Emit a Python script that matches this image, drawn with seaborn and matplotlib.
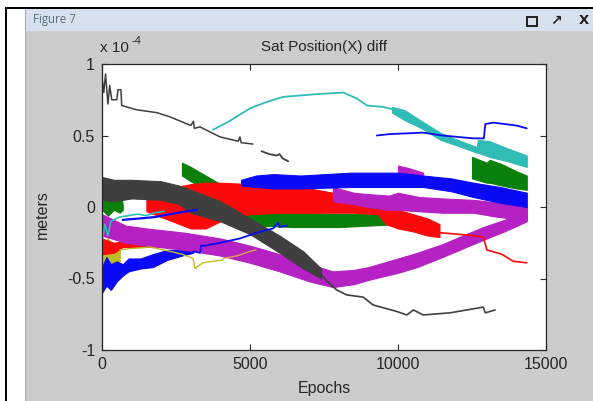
import matplotlib
matplotlib.use('Agg')
import matplotlib.pyplot as plt
import seaborn as sns
from matplotlib.patches import Rectangle

# x in epochs, y in units of 1e-4 m

# thin dark grey line, top left
gray_top_x = [0, 60, 120, 200, 260, 330, 500, 540, 640, 665, 1170, 1850, 2300, 3000, 3090, 3120, 3310, 3990, 4600, 4660, 4700, 5100]
gray_top_y = [0.91, 0.80, 0.93, 0.72, 0.85, 0.75, 0.75, 0.82, 0.82, 0.71, 0.68, 0.66, 0.63, 0.57, 0.60, 0.55, 0.56, 0.49, 0.46, 0.49, 0.45, 0.44]
gray_seg_x = [5390, 5650, 5900, 6000, 6100, 6290]
gray_seg_y = [0.39, 0.37, 0.36, 0.37, 0.34, 0.32]

# thick dark grey band and its thin continuation
gray_band_x = [0, 400, 1000, 2000, 2600, 3000, 4000, 5000, 6000, 6800, 7400]
gray_band_hi = [0.21, 0.19, 0.19, 0.18, 0.15, 0.12, 0.04, -0.08, -0.20, -0.31, -0.43]
gray_band_lo = [0.05, 0.04, 0.06, 0.05, 0.02, -0.04, -0.10, -0.19, -0.32, -0.43, -0.50]
gray_low_x = [7400, 7600, 7930, 8270, 8820, 9160, 9950, 10300, 10520, 10850, 11760, 12880, 12950, 13280]
gray_low_y = [-0.47, -0.52, -0.58, -0.615, -0.63, -0.685, -0.73, -0.755, -0.72, -0.755, -0.74, -0.70, -0.74, -0.72]

# cyan
cyan_arc_x = [3750, 4300, 5000, 5500, 6120, 6700, 7300, 8150, 8600, 8950, 9500, 10070]
cyan_arc_y = [0.54, 0.60, 0.69, 0.73, 0.77, 0.78, 0.79, 0.80, 0.76, 0.71, 0.70, 0.67]
cyan_band_x = [9800, 10200, 10800, 11430, 12000, 12660, 12700, 13100, 13700, 14350]
cyan_band_hi = [0.70, 0.68, 0.60, 0.52, 0.47, 0.42, 0.47, 0.46, 0.41, 0.36]
cyan_band_lo = [0.66, 0.61, 0.55, 0.47, 0.43, 0.38, 0.38, 0.35, 0.32, 0.28]
cyan_left_x = [0, 100, 200, 300, 600, 900, 1200, 1500, 1800, 2100]
cyan_left_y = [-0.25, -0.12, -0.20, -0.10, -0.07, -0.06, -0.05, -0.06, -0.04, -0.03]

# blue
blue_top_x = [9285, 9730, 10850, 11500, 12540, 12900, 12950, 13220, 14000, 14350]
blue_top_y = [0.50, 0.51, 0.52, 0.50, 0.48, 0.48, 0.58, 0.59, 0.57, 0.55]
blue_band_x = [4700, 5200, 5800, 6700, 8400, 10000, 10850, 11800, 12540, 13440, 14350]
blue_band_hi = [0.19, 0.22, 0.23, 0.22, 0.24, 0.24, 0.22, 0.20, 0.17, 0.14, 0.10]
blue_band_lo = [0.15, 0.14, 0.13, 0.13, 0.14, 0.14, 0.14, 0.11, 0.07, 0.03, 0.00]
blue_left_x = [0, 150, 300, 500, 700, 900, 1300, 1720, 2200, 2700, 3075]
blue_left_hi = [-0.42, -0.35, -0.40, -0.38, -0.40, -0.36, -0.36, -0.33, -0.30, -0.30, -0.30]
blue_left_lo = [-0.60, -0.55, -0.58, -0.52, -0.48, -0.45, -0.43, -0.42, -0.37, -0.34, -0.32]
blue_mid_x = [3075, 3310, 3350, 3500, 3990, 4660, 5225, 5780, 5950, 6000, 6250]
blue_mid_y = [-0.31, -0.32, -0.27, -0.27, -0.25, -0.22, -0.18, -0.15, -0.11, -0.14, -0.13]
blue_thin_x = [700, 1280, 1800, 2300, 2860, 3210]
blue_thin_y = [-0.09, -0.08, -0.07, -0.05, -0.03, -0.02]

# green
green_band_x = [2700, 3000, 3500, 4000, 4600, 5200, 6500, 8000, 9000, 10000, 10300]
green_band_hi = [0.31, 0.28, 0.22, 0.16, 0.08, -0.03, -0.04, -0.05, -0.05, -0.04, -0.04]
green_band_lo = [0.22, 0.18, 0.12, 0.07, -0.03, -0.13, -0.14, -0.14, -0.13, -0.12, -0.10]
green_right_x = [12500, 13000, 13100, 13500, 14000, 14350]
green_right_hi = [0.35, 0.31, 0.33, 0.30, 0.25, 0.22]
green_right_lo = [0.20, 0.17, 0.17, 0.15, 0.13, 0.12]
green_left_x = [0, 200, 400, 600, 700]
green_left_hi = [0.12, 0.15, 0.12, 0.12, 0.02]
green_left_lo = [-0.02, -0.06, -0.02, -0.04, -0.02]

# magenta
mag_u_x = [0, 800, 1500, 2800, 4000, 5000, 6000, 7000, 7800, 8500, 9000, 10000, 10650, 11500, 12300, 12880, 13600, 14350]
mag_u_hi = [-0.05, -0.13, -0.15, -0.18, -0.22, -0.27, -0.33, -0.40, -0.45, -0.44, -0.42, -0.36, -0.32, -0.26, -0.19, -0.14, -0.09, -0.01]
mag_u_lo = [-0.20, -0.25, -0.27, -0.30, -0.34, -0.39, -0.45, -0.52, -0.56, -0.54, -0.51, -0.46, -0.42, -0.35, -0.28, -0.23, -0.17, -0.10]
mag_up_x = [7800, 8500, 9000, 9700, 10000, 10700, 11500, 12540, 13400, 14350]
mag_up_hi = [0.14, 0.10, 0.09, 0.08, 0.10, 0.07, 0.06, 0.05, 0.03, 0.00]
mag_up_lo = [0.04, 0.02, 0.00, -0.02, -0.02, -0.03, -0.04, -0.04, -0.07, -0.09]
mag_chunk_x = [10000, 10400, 10850]
mag_chunk_hi = [0.29, 0.27, 0.24]
mag_chunk_lo = [0.20, 0.20, 0.20]

# red
red_band_x = [1500, 2000, 2500, 3000, 3500, 4000, 5000, 6000, 7000, 7800, 8500, 9300, 9600, 10000, 10500, 11000, 11400]
red_band_hi = [0.06, 0.11, 0.14, 0.16, 0.17, 0.17, 0.16, 0.15, 0.13, 0.10, 0.07, 0.05, 0.00, -0.02, -0.05, -0.08, -0.12]
red_band_lo = [-0.03, -0.07, -0.11, -0.15, -0.15, -0.10, -0.05, -0.04, -0.04, -0.04, -0.04, -0.05, -0.12, -0.15, -0.17, -0.20, -0.21]
red_left_x = [0, 400, 700, 1500, 2500, 3200]
red_left_hi = [-0.22, -0.25, -0.24, -0.23, -0.22, -0.23]
red_left_lo = [-0.33, -0.32, -0.28, -0.28, -0.27, -0.27]
red_right_x = [11430, 12000, 12500, 12880, 12950, 13000, 13500, 13900, 14350]
red_right_y = [-0.18, -0.19, -0.20, -0.21, -0.26, -0.30, -0.33, -0.38, -0.39]

# yellow / orange
yel_band_x = [0, 200, 400, 600]
yel_band_hi = [-0.25, -0.22, -0.28, -0.27]
yel_band_lo = [-0.46, -0.43, -0.40, -0.38]
yel_x = [600, 1000, 1620, 2300, 2700, 3075, 3140, 3200, 3410, 4090]
yel_y = [-0.30, -0.29, -0.28, -0.31, -0.33, -0.36, -0.43, -0.42, -0.39, -0.37]
orange_x = [4090, 4600, 5000, 5200]
orange_y = [-0.36, -0.34, -0.31, -0.30]

x_ticks = [0, 5000, 10000, 15000]
y_ticks = [-1, -0.5, 0, 0.5, 1]
y_tick_labels = ['-1', '-0.5', '0', '0.5', '1']

C_GRAY = '#3f3f3f'
C_CYAN = '#2fbcb6'
C_BLUE = '#0a0af5'
C_GREEN = '#0a800a'
C_MAG = '#b521c3'
C_RED = '#fa0a0a'
C_YEL = '#bdbd25'
C_ORANGE = '#e0a050'

W, H = 593, 401
sns.set_theme(style='ticks')
plt.rcParams['font.family'] = ['Liberation Sans', 'DejaVu Sans']

fig = plt.figure(figsize=(W / 100, H / 100), dpi=100, facecolor='white')


def fx(p):
    return p / W


def fy(p):
    return 1 - p / H


def rect(x0, y0, x1, y1, color):
    fig.patches.append(Rectangle((fx(x0), fy(y1)), (x1 - x0) / W, (y1 - y0) / H,
                                 transform=fig.transFigure, facecolor=color,
                                 edgecolor='none', zorder=-5))


# window frame
rect(26, 31, W, H, '#cccccc')
rect(26, 9, W, 31, '#d7e1ee')
rect(25, 9, 26, H, '#a8a8a8')
rect(5, 7, 7, H, 'black')
rect(5, 7, W, 9, 'black')
fig.text(fx(33), fy(20), 'Figure 7', fontsize=8.3, color='#5d6d80',
         family=['Open Sans', 'DejaVu Sans'], va='center')
fig.patches.append(Rectangle((fx(527), fy(26)), 10 / W, 9 / H, transform=fig.transFigure,
                             facecolor='none', edgecolor='#202020', lw=1.4, zorder=-4))
fig.text(fx(556), fy(21), '\u2197', fontsize=10, color='#202020', ha='center', va='center',
         family=['DejaVu Sans'], fontweight='bold')
fig.text(fx(584), fy(21), 'X', fontsize=9.5, color='#202020', ha='center', va='center',
         family=['DejaVu Sans'], fontweight='bold')

ax = fig.add_axes([fx(102), fy(350), 444 / W, 286 / H])
ax.set_facecolor('white')


def band(x, lo, hi, color):
    ax.fill_between(x, lo, hi, color=color, lw=0.8, edgecolor=color)


def line(x, y, color, lw=1.0):
    sns.lineplot(x=x, y=y, ax=ax, color=color, lw=lw, estimator=None, sort=False)


# thin lines underneath
line(yel_x, yel_y, C_YEL)
band(yel_band_x, yel_band_lo, yel_band_hi, C_YEL)
line(orange_x, orange_y, C_ORANGE)
line(blue_mid_x, blue_mid_y, C_BLUE, 1.3)
band(blue_left_x, blue_left_lo, blue_left_hi, C_BLUE)
line(blue_thin_x, blue_thin_y, C_BLUE, 1.6)
line(cyan_left_x, cyan_left_y, C_CYAN, 1.2)
band(red_left_x, red_left_lo, red_left_hi, C_RED)

# thick bands
band(mag_u_x, mag_u_lo, mag_u_hi, C_MAG)
band(green_left_x, green_left_lo, green_left_hi, C_GREEN)
band(green_band_x, green_band_lo, green_band_hi, C_GREEN)
band(red_band_x, red_band_lo, red_band_hi, C_RED)
band(mag_chunk_x, mag_chunk_lo, mag_chunk_hi, C_MAG)
band(mag_up_x, mag_up_lo, mag_up_hi, C_MAG)
band(blue_band_x, blue_band_lo, blue_band_hi, C_BLUE)
band(green_right_x, green_right_lo, green_right_hi, C_GREEN)
band(cyan_band_x, cyan_band_lo, cyan_band_hi, C_CYAN)
line(cyan_arc_x, cyan_arc_y, C_CYAN, 1.3)
line(red_right_x, red_right_y, C_RED, 1.2)
line(blue_top_x, blue_top_y, C_BLUE, 1.3)
band(gray_band_x, gray_band_lo, gray_band_hi, C_GRAY)
line(gray_low_x, gray_low_y, C_GRAY, 1.2)
line(gray_top_x, gray_top_y, C_GRAY, 1.1)
line(gray_seg_x, gray_seg_y, C_GRAY, 1.3)

ax.set_xlim(0, 15000)
ax.set_ylim(-1, 1)
ax.set_xticks(x_ticks)
ax.set_xticklabels([str(t) for t in x_ticks])
ax.set_yticks(y_ticks)
ax.set_yticklabels(y_tick_labels)
ax.tick_params(direction='in', length=4, width=0.8, top=True, right=True,
               labeltop=False, labelright=False, labelsize=11.5, colors='#262626', pad=5)
for s in ax.spines.values():
    s.set_visible(True)
    s.set_color('#262626')
    s.set_linewidth(0.9)

ax.set_xlabel('Epochs', fontsize=11.5, color='#262626')
ax.xaxis.set_label_coords(0.5, -(388 - 350) / 286)
ax.xaxis.label.set_va('center')
ax.set_ylabel('meters', fontsize=11.5, color='#262626')
ax.yaxis.set_label_coords(-(102 - 42) / 444, (350 - 215) / 286)
ax.yaxis.label.set_va('center')

fig.text(fx(324), fy(47), 'Sat Position(X) diff', fontsize=11, ha='center', va='center',
         color='#262626')
fig.text(fx(100), fy(48), 'x 10', fontsize=11, va='center', color='#262626')
fig.text(fx(131), fy(41), '-4', fontsize=8, va='center', color='#262626')

fig.savefig('out.png', dpi=100, facecolor=fig.get_facecolor())
